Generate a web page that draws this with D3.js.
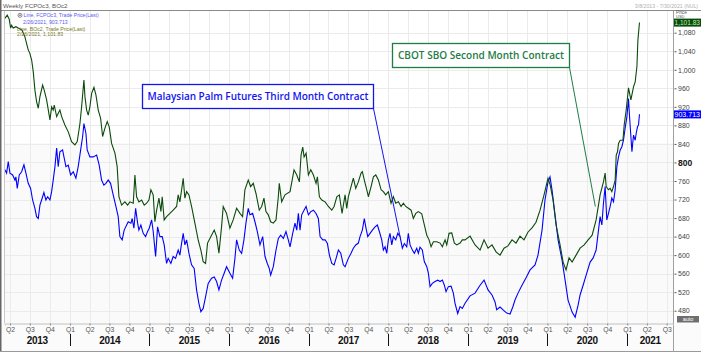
<!DOCTYPE html>
<html>
<head>
<meta charset="utf-8">
<script src="https://cdn.jsdelivr.net/npm/d3@7"></script>
<style>
body { margin: 0; background: #fff; }
svg { display: block; font-family: "Liberation Sans", Arial, sans-serif; }
</style>
</head>
<body>
<svg id="chart" width="701" height="354"></svg>
<script>
// weekly closes, [decimal year, price]
const palmWeekly = [
  [2013.183,784],[2013.204,777],[2013.225,802],[2013.246,777],[2013.280,773],[2013.309,762],[2013.321,769],[2013.338,744],[2013.363,773],[2013.393,780],
  [2013.422,795],[2013.447,777],[2013.476,755],[2013.506,744],[2013.531,719],[2013.560,701],[2013.581,683],[2013.602,679],[2013.623,708],[2013.644,719],
  [2013.673,735],[2013.698,719],[2013.720,726],[2013.749,719],[2013.770,737],[2013.790,762],[2013.812,791],[2013.833,831],[2013.853,791],[2013.874,823],
  [2013.908,827],[2013.925,812],[2013.950,791],[2013.979,794],[2014.009,773],[2014.042,780],[2014.075,766],[2014.104,791],[2014.135,827],[2014.160,856],
  [2014.176,884],[2014.201,863],[2014.217,827],[2014.251,812],[2014.293,812],[2014.336,816],[2014.368,794],[2014.398,762],[2014.427,751],[2014.452,755],
  [2014.481,762],[2014.511,755],[2014.544,730],[2014.578,705],[2014.607,683],[2014.628,640],[2014.657,633],[2014.682,654],[2014.713,665],[2014.733,672],
  [2014.767,669],[2014.783,679],[2014.804,658],[2014.826,701],[2014.851,669],[2014.867,654],[2014.892,665],[2014.921,647],[2014.951,640],[2014.976,651],
  [2014.997,658],[2015.027,676],[2015.047,651],[2015.077,597],[2015.102,661],[2015.131,640],[2015.160,640],[2015.185,622],[2015.215,582],[2015.235,593],
  [2015.269,582],[2015.298,597],[2015.328,593],[2015.361,611],[2015.382,600],[2015.404,626],[2015.424,647],[2015.445,622],[2015.467,633],[2015.496,604],
  [2015.529,579],[2015.562,571],[2015.592,525],[2015.621,496],[2015.646,478],[2015.675,485],[2015.705,510],[2015.738,539],[2015.781,550],[2015.814,553],
  [2015.844,543],[2015.873,525],[2015.906,546],[2015.939,561],[2015.969,575],[2016.011,561],[2016.045,550],[2016.074,593],[2016.095,633],[2016.128,611],
  [2016.158,604],[2016.187,633],[2016.212,669],[2016.241,701],[2016.262,687],[2016.296,690],[2016.325,672],[2016.354,651],[2016.388,622],[2016.422,640],
  [2016.451,597],[2016.480,582],[2016.505,571],[2016.522,557],[2016.555,575],[2016.589,611],[2016.618,636],[2016.648,643],[2016.681,636],[2016.714,651],
  [2016.743,633],[2016.765,618],[2016.798,647],[2016.827,669],[2016.849,654],[2016.869,690],[2016.890,654],[2016.911,687],[2016.940,697],[2016.966,705],
  [2016.995,687],[2017.025,694],[2017.058,697],[2017.091,690],[2017.120,679],[2017.142,640],[2017.176,633],[2017.205,633],[2017.234,625],[2017.259,600],
  [2017.289,582],[2017.318,579],[2017.343,593],[2017.372,611],[2017.402,604],[2017.434,579],[2017.456,575],[2017.497,593],[2017.531,604],[2017.560,615],
  [2017.590,622],[2017.623,626],[2017.644,640],[2017.673,654],[2017.698,679],[2017.716,661],[2017.741,640],[2017.770,647],[2017.799,654],[2017.833,661],
  [2017.862,665],[2017.887,651],[2017.917,633],[2017.937,611],[2017.959,618],[2017.980,604],[2018.000,633],[2018.021,647],[2018.043,622],[2018.063,640],
  [2018.093,633],[2018.118,647],[2018.147,640],[2018.176,615],[2018.201,625],[2018.231,618],[2018.251,647],[2018.273,622],[2018.302,611],[2018.327,604],
  [2018.357,615],[2018.377,604],[2018.398,617],[2018.427,611],[2018.452,586],[2018.483,575],[2018.503,561],[2018.524,532],[2018.553,539],[2018.587,543],
  [2018.621,546],[2018.650,543],[2018.679,546],[2018.704,535],[2018.725,521],[2018.754,532],[2018.788,533],[2018.817,518],[2018.838,496],[2018.872,474],
  [2018.901,489],[2018.930,485],[2018.964,496],[2019.027,512],[2019.090,518],[2019.153,535],[2019.203,546],[2019.253,525],[2019.303,514],[2019.341,499],
  [2019.362,482],[2019.404,488],[2019.442,482],[2019.488,475],[2019.530,473],[2019.564,488],[2019.592,503],[2019.630,518],[2019.680,535],[2019.731,551],
  [2019.781,568],[2019.844,579],[2019.881,600],[2019.932,654],[2019.969,719],[2020.007,758],[2020.032,769],[2020.057,741],[2020.095,687],[2020.133,633],
  [2020.183,589],[2020.221,546],[2020.258,503],[2020.309,477],[2020.347,466],[2020.384,492],[2020.409,514],[2020.447,535],[2020.485,557],[2020.535,585],
  [2020.573,594],[2020.610,611],[2020.660,683],[2020.682,665],[2020.702,712],[2020.723,748],[2020.744,676],[2020.765,690],[2020.786,705],[2020.807,723],
  [2020.828,715],[2020.849,741],[2020.870,791],[2020.891,812],[2020.912,827],[2020.933,834],[2020.953,848],[2020.974,874],[2020.996,899],[2021.016,938],
  [2021.029,899],[2021.046,856],[2021.059,823],[2021.071,845],[2021.079,859],[2021.100,848],[2021.113,863],[2021.129,877],[2021.142,881],[2021.154,904]
];

const sboWeekly = [
  [2013.183,1111],[2013.212,1118],[2013.237,1109],[2013.255,1090],[2013.267,1096],[2013.287,1090],[2013.321,1093],[2013.350,1090],[2013.397,1086],[2013.434,1071],
  [2013.476,1043],[2013.497,1035],[2013.519,1021],[2013.539,996],[2013.560,956],[2013.581,931],[2013.602,917],[2013.623,942],[2013.657,967],[2013.677,956],
  [2013.707,935],[2013.749,892],[2013.770,920],[2013.790,913],[2013.803,924],[2013.833,899],[2013.874,913],[2013.896,899],[2013.937,881],[2013.979,866],
  [2014.021,845],[2014.063,838],[2014.092,845],[2014.126,884],[2014.147,920],[2014.176,978],[2014.189,942],[2014.210,913],[2014.230,902],[2014.251,920],
  [2014.273,949],[2014.302,962],[2014.327,946],[2014.356,913],[2014.386,895],[2014.411,856],[2014.440,874],[2014.469,888],[2014.494,877],[2014.524,841],
  [2014.566,820],[2014.594,791],[2014.616,726],[2014.650,708],[2014.691,715],[2014.725,708],[2014.754,715],[2014.796,712],[2014.817,773],[2014.838,726],
  [2014.867,715],[2014.901,719],[2014.934,708],[2014.964,712],[2014.993,719],[2015.018,741],[2015.047,730],[2015.068,672],[2015.090,697],[2015.119,723],
  [2015.144,694],[2015.160,726],[2015.185,676],[2015.215,683],[2015.257,690],[2015.298,697],[2015.341,705],[2015.361,730],[2015.382,715],[2015.404,741],
  [2015.424,766],[2015.445,723],[2015.467,737],[2015.496,730],[2015.529,705],[2015.571,669],[2015.612,633],[2015.646,611],[2015.675,586],[2015.705,582],
  [2015.730,626],[2015.772,640],[2015.814,654],[2015.844,640],[2015.873,604],[2015.906,661],[2015.927,705],[2015.969,690],[2016.011,658],[2016.052,676],
  [2016.095,701],[2016.137,690],[2016.170,683],[2016.199,741],[2016.241,762],[2016.271,748],[2016.304,755],[2016.338,733],[2016.379,697],[2016.409,705],
  [2016.438,723],[2016.463,694],[2016.492,687],[2016.522,672],[2016.555,669],[2016.589,676],[2016.618,726],[2016.630,755],[2016.660,715],[2016.702,730],
  [2016.765,737],[2016.815,784],[2016.849,773],[2016.882,758],[2016.903,816],[2016.924,833],[2016.941,812],[2016.966,820],[2016.995,773],[2017.025,784],
  [2017.058,773],[2017.091,755],[2017.108,769],[2017.133,726],[2017.163,719],[2017.205,715],[2017.246,705],[2017.289,697],[2017.318,705],[2017.352,726],
  [2017.384,730],[2017.418,690],[2017.456,730],[2017.477,701],[2017.497,726],[2017.531,748],[2017.560,766],[2017.590,744],[2017.623,758],[2017.657,777],
  [2017.673,780],[2017.698,762],[2017.729,741],[2017.749,726],[2017.783,748],[2017.812,769],[2017.842,773],[2017.875,762],[2017.909,741],[2017.937,737],
  [2017.967,730],[2018.000,737],[2018.034,712],[2018.063,726],[2018.093,712],[2018.126,715],[2018.160,705],[2018.189,712],[2018.219,705],[2018.252,701],
  [2018.286,697],[2018.314,679],[2018.345,690],[2018.377,694],[2018.420,689],[2018.453,665],[2018.483,643],[2018.512,633],[2018.537,618],[2018.566,629],
  [2018.609,629],[2018.650,626],[2018.679,618],[2018.713,633],[2018.734,622],[2018.763,647],[2018.797,648],[2018.830,626],[2018.860,622],[2018.901,626],
  [2018.930,633],[2018.964,633],[2019.027,641],[2019.090,622],[2019.153,611],[2019.203,633],[2019.253,615],[2019.303,622],[2019.354,607],[2019.404,600],
  [2019.454,615],[2019.504,620],[2019.555,633],[2019.605,626],[2019.655,641],[2019.705,633],[2019.756,650],[2019.806,659],[2019.856,671],[2019.907,697],
  [2019.957,730],[2020.007,766],[2020.032,753],[2020.070,719],[2020.108,665],[2020.158,622],[2020.196,585],[2020.233,568],[2020.271,594],[2020.309,585],
  [2020.359,600],[2020.409,615],[2020.460,622],[2020.510,633],[2020.560,643],[2020.610,676],[2020.660,730],[2020.702,758],[2020.723,777],[2020.736,748],
  [2020.765,741],[2020.786,744],[2020.807,737],[2020.828,748],[2020.849,762],[2020.862,816],[2020.878,823],[2020.891,841],[2020.912,848],[2020.946,848],
  [2020.962,881],[2020.987,913],[2021.016,961],[2021.046,935],[2021.079,963],[2021.100,974],[2021.122,1007],[2021.134,1064],[2021.154,1102]
];

const priceTicks = [480, 520, 560, 600, 640, 680, 720, 760, 800, 840, 880, 920, 960, 1000, 1040, 1080];
const yearLabels = [2013, 2014, 2015, 2016, 2017, 2018, 2019, 2020, 2021];
const lastPalm = 903.713;
const lastSbo = 1101.83;
const legendLines = [
  "Line, FCPOc3, Trade Price(Last)", "2/26/2021, 903.713",
  "Line, BOc2, Trade Price(Last)", "2/26/2021, 1,101.83"
];
const palmNote = "Malaysian Palm Futures Third Month Contract";
const sboNote = "CBOT SBO Second Month Contract";

const W = 701, H = 354;
const area = { left: 4.5, right: 673.5, top: 11, bottom: 323.5 };
const palmColor = "#0000ff", sboColor = "#0b4a0b", noteGreen = "#1e7d46";

const svg = d3.select("#chart");

// decimal year -> UTC date
const toDate = t => {
  const yr = Math.floor(t);
  const s = Date.UTC(yr, 0, 1), e = Date.UTC(yr + 1, 0, 1);
  return new Date(s + (t - yr) * (e - s));
};

const x = d3.scaleUtc()
  .domain([new Date(Date.UTC(2013, 2, 8)), new Date(Date.UTC(2021, 6, 30))])
  .range([4.75, 673]);
const y = d3.scaleLinear()
  .domain([453.5, 1124.7])
  .range([323, 12]);

// backgrounds
svg.append("rect").attr("width", W).attr("height", H).attr("fill", "#fff");
svg.append("rect")
  .attr("x", area.left).attr("y", y(842))
  .attr("width", area.right - area.left).attr("height", area.bottom - y(842))
  .attr("fill", "#fafafa");
svg.append("rect")
  .attr("x", 0).attr("y", area.bottom)
  .attr("width", W).attr("height", 352 - area.bottom)
  .attr("fill", "#fbfbfb");

// grid
const quarters = d3.utcMonth.every(3).range(x.domain()[0], x.domain()[1]);
svg.append("g").selectAll("line").data(quarters).join("line")
  .attr("x1", d => Math.round(x(d)) + 0.5).attr("x2", d => Math.round(x(d)) + 0.5)
  .attr("y1", area.top).attr("y2", area.bottom)
  .attr("stroke", "#ebebeb");
svg.append("g").selectAll("line").data(priceTicks).join("line")
  .attr("x1", area.left).attr("x2", area.right)
  .attr("y1", d => Math.round(y(d)) + 0.5).attr("y2", d => Math.round(y(d)) + 0.5)
  .attr("stroke", "#ebebeb");

// series
svg.append("clipPath").attr("id", "clip")
  .append("rect").attr("x", area.left).attr("y", area.top)
  .attr("width", area.right - area.left).attr("height", area.bottom - area.top);

const line = d3.line()
  .x(d => x(toDate(d[0])))
  .y(d => y(d[1]));

svg.append("path").datum(palmWeekly)
  .attr("clip-path", "url(#clip)")
  .attr("fill", "none").attr("stroke", palmColor).attr("stroke-width", 1.1)
  .attr("d", line);
svg.append("path").datum(sboWeekly)
  .attr("clip-path", "url(#clip)")
  .attr("fill", "none").attr("stroke", sboColor).attr("stroke-width", 1.1)
  .attr("d", line);

// frame
svg.append("line").attr("x1", 0).attr("x2", W).attr("y1", 10.5).attr("y2", 10.5).attr("stroke", "#8a8a8a");
svg.append("line").attr("x1", 0.75).attr("x2", 0.75).attr("y1", 0).attr("y2", 352).attr("stroke", "#666").attr("stroke-width", 1.5);
svg.append("line").attr("x1", 0).attr("x2", W).attr("y1", 351.5).attr("y2", 351.5).attr("stroke", "#9a9a9a");
svg.append("line").attr("x1", area.left).attr("x2", area.left).attr("y1", area.top).attr("y2", area.bottom).attr("stroke", "#c8c8c8");
svg.append("line").attr("x1", area.right).attr("x2", area.right).attr("y1", area.top).attr("y2", 352).attr("stroke", "#a0a0a0");

// x axis: quarters
const xAxis = svg.append("g")
  .attr("transform", `translate(0,${area.bottom})`)
  .call(d3.axisBottom(x)
    .tickValues(quarters)
    .tickSize(2)
    .tickPadding(2)
    .tickFormat(d => "Q" + (d.getUTCMonth() / 3 + 1)));
xAxis.select(".domain").attr("stroke", "#c0c0c0");
xAxis.selectAll(".tick line").attr("stroke", "#888");
xAxis.selectAll(".tick text").attr("font-size", 6.8).attr("fill", "#555")
  .attr("font-family", "Liberation Sans, Arial, sans-serif");

// x axis: years
const yearBand = svg.append("g");
yearLabels.forEach(yr => {
  const s = Math.max(x(new Date(Date.UTC(yr, 0, 1))), area.left);
  const e = Math.min(x(new Date(Date.UTC(yr + 1, 0, 1))), area.right);
  yearBand.append("text")
    .attr("x", (s + e) / 2).attr("y", 344)
    .attr("text-anchor", "middle")
    .attr("font-size", 10).attr("font-weight", "bold").attr("fill", "#111")
    .attr("letter-spacing", -0.3)
    .text(yr);
  if (yr > 2013) {
    const xs = Math.round(x(new Date(Date.UTC(yr, 0, 1)))) + 0.5;
    yearBand.append("line")
      .attr("x1", xs).attr("x2", xs).attr("y1", 334).attr("y2", 346)
      .attr("stroke", "#111");
  }
});

// y axis on the right
const yAxis = svg.append("g")
  .attr("transform", `translate(${area.right + 1},0)`)
  .call(d3.axisRight(y)
    .tickValues(priceTicks)
    .tickSize(2)
    .tickPadding(1.5)
    .tickFormat(d3.format(",")));
yAxis.select(".domain").remove();
yAxis.selectAll(".tick line").attr("stroke", "#555");
yAxis.selectAll(".tick text")
  .attr("font-family", "Liberation Sans, Arial, sans-serif")
  .attr("font-size", d => d === 800 ? 8.5 : 7)
  .attr("font-weight", d => d === 800 ? "bold" : "normal")
  .attr("fill", d => d === 800 ? "#111" : "#444");

svg.append("text").attr("x", 676).attr("y", 14.3)
  .attr("font-size", 4.8).attr("fill", "#555").text("Price");
svg.append("text").attr("x", 676).attr("y", 18.2)
  .attr("font-size", 4).attr("fill", "#555").text("USD");

// last value tags
const tag = (val, bg, fg, label) => {
  const cy = y(val);
  svg.append("rect").attr("x", area.right + 0.5).attr("y", cy - 4)
    .attr("width", W - area.right - 0.5).attr("height", 8).attr("fill", bg);
  svg.append("text").attr("x", area.right + 1).attr("y", cy + 2.6)
    .attr("font-size", 7).attr("fill", fg)
    .attr("textLength", 25.5).attr("lengthAdjust", "spacingAndGlyphs")
    .text(label);
};
tag(lastSbo, "#0b4a0b", "#b6f0b6", d3.format(",.2f")(lastSbo));
tag(lastPalm, "#0000ff", "#ffffff", d3.format(".3f")(lastPalm));

// "auto" button
svg.append("rect").attr("x", 677).attr("y", 316).attr("width", 22).attr("height", 6.5).attr("fill", "#6e6e6e");
svg.append("text").attr("x", 688).attr("y", 321.3).attr("text-anchor", "middle")
  .attr("font-size", 5.5).attr("fill", "#fff").text("auto");

// header texts
svg.append("text").attr("x", 3).attr("y", 8)
  .attr("font-size", 6.2).attr("fill", "#555").text("Weekly FCPOc3, BOc2");
svg.append("text").attr("x", 698).attr("y", 7.5).attr("text-anchor", "end")
  .attr("font-size", 5.2).attr("fill", "#b0b0b0").text("3/8/2013 - 7/30/2021 (NUL)");

// legend
const legend = svg.append("g").attr("font-size", 5.2);
legend.append("circle").attr("cx", 20).attr("cy", 15.3).attr("r", 2)
  .attr("fill", "none").attr("stroke", "#555").attr("stroke-width", 0.7);
legend.append("circle").attr("cx", 20).attr("cy", 15.3).attr("r", 0.8).attr("fill", "#555");
legend.append("text").attr("x", 23.5).attr("y", 17.2).attr("fill", "#5a5af0").text(legendLines[0]);
legend.append("text").attr("x", 23).attr("y", 23.8).attr("fill", "#5a5af0").text(legendLines[1]);
legend.append("text").attr("x", 17).attr("y", 30.5).attr("fill", "#7a7a2a").text(legendLines[2]);
legend.append("text").attr("x", 17).attr("y", 36).attr("fill", "#7a7a2a").text(legendLines[3]);

// annotations
const note = (text, box, color, target, textLen) => {
  const g = svg.append("g");
  g.append("line")
    .attr("x1", box.x + box.w).attr("y1", box.y + box.h)
    .attr("x2", x(toDate(target[0]))).attr("y2", y(target[1]))
    .attr("stroke", color).attr("stroke-width", 1);
  g.append("rect")
    .attr("x", box.x).attr("y", box.y).attr("width", box.w).attr("height", box.h)
    .attr("fill", "#fff").attr("stroke", color).attr("stroke-width", 1.3);
  g.append("text")
    .attr("x", box.x + box.w / 2).attr("y", box.y + box.h / 2 + 3.6)
    .attr("text-anchor", "middle")
    .attr("font-family", "Open Sans, Noto Sans, sans-serif")
    .attr("font-size", 10).attr("font-weight", 600)
    .attr("fill", color)
    .attr("textLength", textLen).attr("lengthAdjust", "spacing")
    .text(text);
};
note(palmNote, { x: 142.5, y: 84.5, w: 231, h: 24 }, "#1414f0", [2018.147, 640], 221);
note(sboNote, { x: 392.5, y: 43.5, w: 177, h: 24 }, noteGreen, [2020.6, 705], 166);
</script>
</body>
</html>
